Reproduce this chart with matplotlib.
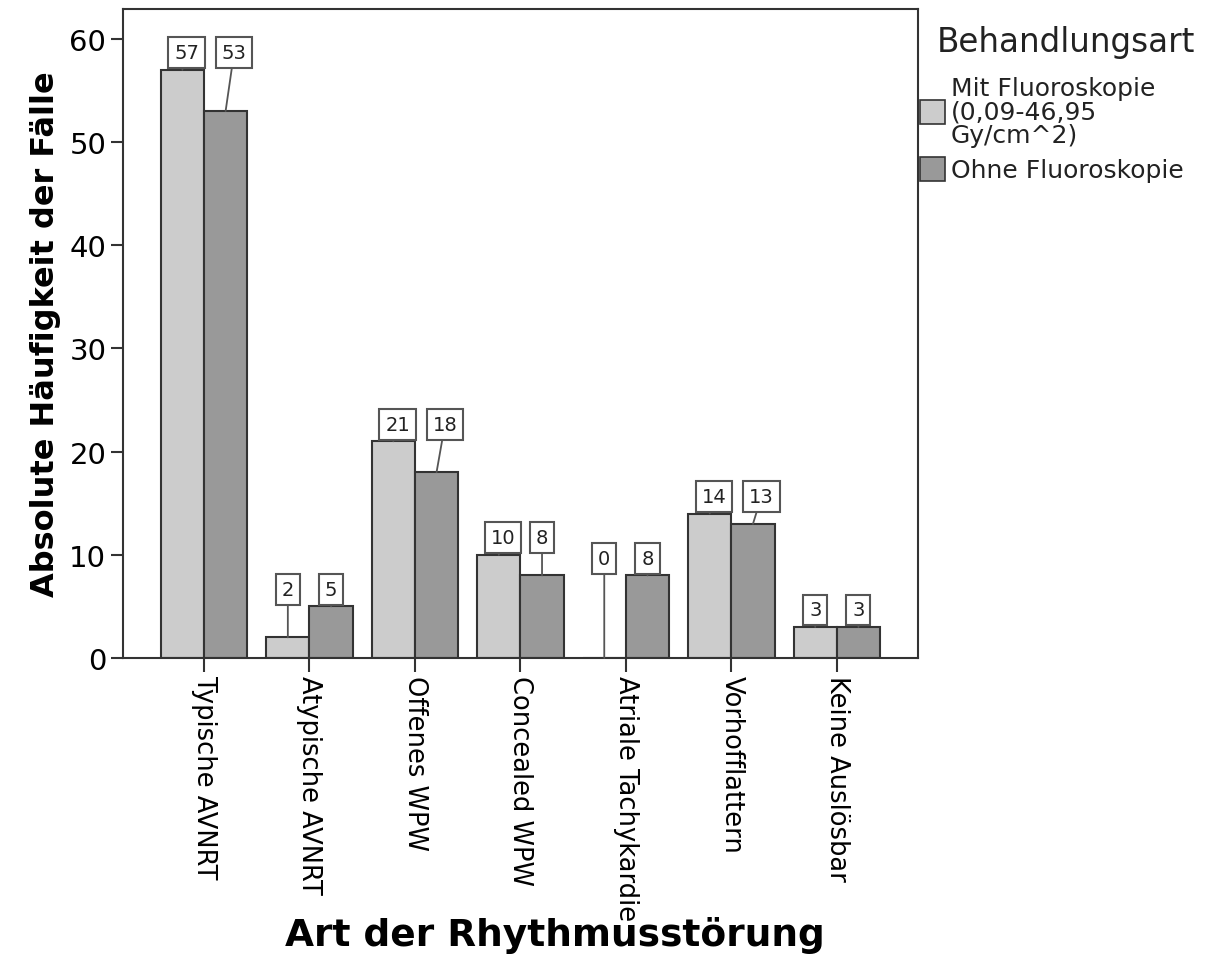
import numpy as np
import matplotlib.pyplot as plt
from matplotlib.patches import Patch

# Daten aus der Grafik
kategorien = ['Typische AVNRT', 'Atypische AVNRT', 'Offenes WPW', 'Concealed WPW',
              'Atriale Tachykardie', 'Vorhofflattern', 'Keine Auslösbar']
mit_fluoro = [57, 2, 21, 10, 0, 14, 3]
ohne_fluoro = [53, 5, 18, 8, 8, 13, 3]
legende_mit = 'Mit Fluoroskopie\n(0,09-46,95\nGy/cm^2)'
legende_ohne = 'Ohne Fluoroskopie'

hell = '#cccccc'
dunkel = '#999999'
rand = '#333333'

fig = plt.figure(figsize=(12.2, 9.78), dpi=100)
ax = fig.add_axes([0.1008, 0.3262, 0.6517, 0.6636])

x = np.arange(len(kategorien))
b = 0.41
ax.bar(x - b / 2, mit_fluoro, b, color=hell, edgecolor=rand, linewidth=1.5, zorder=2)
ax.bar(x + b / 2, ohne_fluoro, b, color=dunkel, edgecolor=rand, linewidth=1.5, zorder=2)

# Beschriftungskästen mit Führungslinie
for i in range(len(kategorien)):
    y_box = max(mit_fluoro[i], ohne_fluoro[i]) + 1.65
    for wert, dx in ((mit_fluoro[i], -b / 2), (ohne_fluoro[i], b / 2)):
        versatz = (0.04 if dx < 0 else 0.08) if wert >= 10 else 0.0
        ax.annotate(str(wert), xy=(x[i] + dx, wert), xytext=(x[i] + dx + versatz, y_box),
                    ha='center', va='center', fontsize=14, color='#222222', zorder=5,
                    bbox=dict(boxstyle='square,pad=0.3', fc='white', ec='#555555', lw=1.5),
                    arrowprops=dict(arrowstyle='-', color='#555555', lw=1.3,
                                    shrinkA=0, shrinkB=0))

ax.set_xlim(-0.768, 6.77)
ax.set_ylim(0, 62.9)
ax.set_yticks(range(0, 61, 10))
ax.set_xticks(x)
ax.set_xticklabels(kategorien, rotation=-90, fontsize=18.5, va='top', ha='center')
ax.tick_params(axis='y', labelsize=21, length=9, width=1.5, color=rand, pad=3)
ax.tick_params(axis='x', length=10, width=1.5, color=rand, pad=2)
for s in ax.spines.values():
    s.set_color(rand)
    s.set_linewidth(1.5)

ax.set_ylabel('Absolute Häufigkeit der Fälle', fontsize=23, fontweight='bold', labelpad=6)
ax.set_xlabel('Art der Rhythmusstörung', fontsize=27, fontweight='bold')
ax.xaxis.set_label_coords(0.543, -0.397)

# Legende
fig.text(0.768, 0.957, 'Behandlungsart', fontsize=23.5, va='center', ha='left', color='#222222')
griffe = [Patch(facecolor=hell, edgecolor=rand, linewidth=1.2),
          Patch(facecolor=dunkel, edgecolor=rand, linewidth=1.2)]
leg = ax.legend(griffe, [legende_mit, legende_ohne], loc='upper left',
                bbox_to_anchor=(1.002, 0.897), frameon=False, fontsize=18,
                handlelength=1.0, handleheight=1.1, handletextpad=0.25,
                labelspacing=0.4, borderpad=0, borderaxespad=0)
for t in leg.get_texts():
    t.set_linespacing(0.97)
    t.set_color('#222222')

fig.savefig('out.png', dpi=100)
